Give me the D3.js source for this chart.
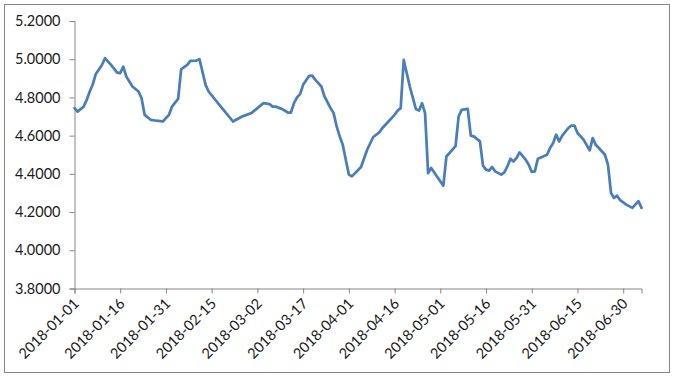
<!DOCTYPE html>
<html>
<head>
<meta charset="utf-8">
<script src="https://cdn.jsdelivr.net/npm/d3@7"></script>
<style>
  html, body { margin: 0; padding: 0; background: #fff; }
  svg { display: block; }
</style>
</head>
<body>
<svg id="chart" width="674" height="377"></svg>
<script>
const dates = [
  "2018-01-01","2018-01-02","2018-01-04","2018-01-05","2018-01-06","2018-01-07","2018-01-08","2018-01-10","2018-01-11","2018-01-13",
  "2018-01-15","2018-01-16","2018-01-17","2018-01-18","2018-01-19","2018-01-20","2018-01-22","2018-01-23","2018-01-24","2018-01-26",
  "2018-01-28","2018-01-30","2018-01-31","2018-02-01","2018-02-02","2018-02-04","2018-02-05","2018-02-07","2018-02-08","2018-02-10",
  "2018-02-11","2018-02-13","2018-02-14","2018-02-18","2018-02-22","2018-02-23","2018-02-25","2018-02-28","2018-03-02","2018-03-04",
  "2018-03-06","2018-03-07","2018-03-08","2018-03-10","2018-03-12","2018-03-13","2018-03-14","2018-03-15","2018-03-16","2018-03-17",
  "2018-03-19","2018-03-20","2018-03-21","2018-03-23","2018-03-24","2018-03-26","2018-03-27","2018-03-28","2018-03-29","2018-03-30",
  "2018-03-31","2018-04-01","2018-04-02","2018-04-05","2018-04-07","2018-04-09","2018-04-11","2018-04-12","2018-04-14","2018-04-16",
  "2018-04-17","2018-04-18","2018-04-19","2018-04-21","2018-04-23","2018-04-24","2018-04-25","2018-04-26","2018-04-27","2018-04-28",
  "2018-05-02","2018-05-03","2018-05-06","2018-05-07","2018-05-08","2018-05-10","2018-05-11","2018-05-12","2018-05-14","2018-05-15",
  "2018-05-16","2018-05-17","2018-05-18","2018-05-19","2018-05-21","2018-05-22","2018-05-23","2018-05-24","2018-05-25","2018-05-26",
  "2018-05-27","2018-05-29","2018-05-30","2018-05-31","2018-06-01","2018-06-02","2018-06-03","2018-06-05","2018-06-06","2018-06-07",
  "2018-06-08","2018-06-09","2018-06-10","2018-06-12","2018-06-13","2018-06-14","2018-06-15","2018-06-17","2018-06-19","2018-06-20",
  "2018-06-21","2018-06-22","2018-06-24","2018-06-25","2018-06-26","2018-06-27","2018-06-28","2018-06-29","2018-07-01","2018-07-03",
  "2018-07-05","2018-07-06"
];
const values = [
  4.744,4.726,4.752,4.787,4.831,4.869,4.923,4.970,5.005,4.970,
  4.930,4.927,4.961,4.909,4.883,4.857,4.831,4.796,4.709,4.683,
  4.678,4.674,4.692,4.709,4.752,4.793,4.948,4.970,4.991,4.993,
  5.000,4.866,4.831,4.752,4.674,4.683,4.700,4.718,4.744,4.770,
  4.765,4.752,4.752,4.740,4.721,4.721,4.770,4.800,4.817,4.866,
  4.913,4.914,4.892,4.857,4.805,4.744,4.718,4.648,4.596,4.552,
  4.474,4.396,4.387,4.436,4.526,4.593,4.617,4.640,4.674,4.709,
  4.731,4.744,4.996,4.857,4.739,4.731,4.770,4.718,4.404,4.431,
  4.338,4.491,4.545,4.700,4.735,4.740,4.600,4.596,4.570,4.443,
  4.422,4.417,4.436,4.413,4.396,4.408,4.439,4.479,4.465,4.483,
  4.512,4.474,4.448,4.410,4.413,4.479,4.486,4.500,4.535,4.561,
  4.605,4.570,4.600,4.640,4.653,4.653,4.614,4.579,4.523,4.587,
  4.552,4.535,4.500,4.448,4.300,4.274,4.286,4.262,4.239,4.222,
  4.257,4.222
];
const yTicks = [3.8, 4.0, 4.2, 4.4, 4.6, 4.8, 5.0, 5.2];
const xTickLabels = ["2018-01-01","2018-01-16","2018-01-31","2018-02-15","2018-03-02","2018-03-17","2018-04-01",
                     "2018-04-16","2018-05-01","2018-05-16","2018-05-31","2018-06-15","2018-06-30"];
const xDomain = ["2018-01-01", "2018-07-06"];

const parse = d3.utcParse("%Y-%m-%d");
const fmtDate = d3.utcFormat("%Y-%m-%d");
const data = dates.map((d, i) => ({ date: parse(d), value: values[i] }));

const svg = d3.select("#chart");
const axisColor = "#868686";
const textColor = "#1a1a1a";
const fontFamily = "Lato, 'Open Sans', sans-serif";

// chart frame
svg.append("rect")
  .attr("x", 4.5).attr("y", 4.5)
  .attr("width", 665).attr("height", 368)
  .attr("fill", "#fff")
  .attr("stroke", axisColor)
  .attr("stroke-width", 1);

const x = d3.scaleUtc()
  .domain(xDomain.map(parse))
  .range([74.5, 641.5]);
const y = d3.scaleLinear()
  .domain([3.8, 5.2])
  .range([288.5, 21]);

// y axis
const yAxis = svg.append("g")
  .attr("transform", "translate(74.5,0)")
  .call(d3.axisLeft(y).tickValues(yTicks).tickFormat(d3.format(".4f")).tickSize(5).tickPadding(9));
yAxis.select(".domain").attr("stroke", axisColor);
yAxis.selectAll(".tick line").attr("stroke", axisColor);
yAxis.selectAll(".tick text")
  .attr("fill", textColor)
  .style("font-family", fontFamily)
  .style("font-size", "14.5px");

// x axis
const xAxis = svg.append("g")
  .attr("transform", "translate(0,288.5)")
  .call(d3.axisBottom(x).tickValues(xTickLabels.map(parse)).tickFormat(fmtDate).tickSizeOuter(0).tickSize(5));
xAxis.select(".domain").attr("stroke", axisColor);
xAxis.selectAll(".tick line").attr("stroke", axisColor);
xAxis.selectAll(".tick text")
  .attr("fill", textColor)
  .style("font-family", fontFamily)
  .style("font-size", "14.5px")
  .attr("text-anchor", "end")
  .attr("transform", "translate(5,16) rotate(-45)")
  .attr("dx", "0")
  .attr("dy", "0")
  .attr("y", 0)
  .attr("x", 0);

// line
const line = d3.line()
  .x(d => x(d.date))
  .y(d => y(d.value));
svg.append("path")
  .datum(data)
  .attr("fill", "none")
  .attr("stroke", "#4a7ebb")
  .attr("stroke-width", 2.75)
  .attr("stroke-linejoin", "round")
  .attr("stroke-linecap", "round")
  .attr("d", line);
</script>
</body>
</html>
